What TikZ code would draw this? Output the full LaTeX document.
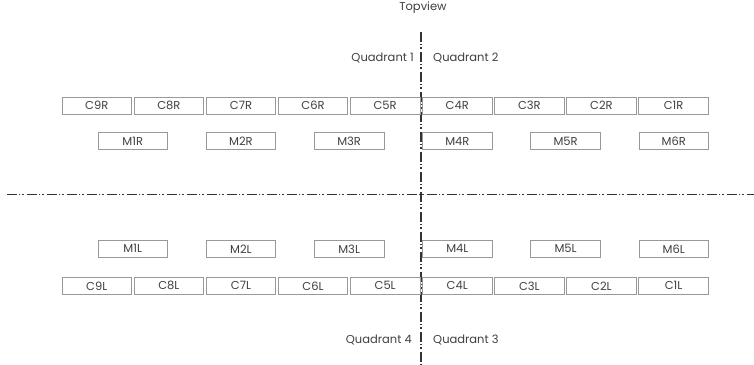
\documentclass[tikz,border=0pt]{standalone}
\usepackage{fontspec}
\setmainfont{Poppins}
\begin{document}
\begin{tikzpicture}[x=1pt,y=-1pt,
  cell/.style={draw=black!40,line width=0.7pt,minimum width=69.5pt,minimum height=17pt,inner sep=0pt,font=\fontsize{11.5}{13}\selectfont,text=black!75},
  lbl/.style={font=\fontsize{11.5}{13}\selectfont,text=black!75,inner sep=0pt},
  axis/.style={draw=black!80,line width=1.8pt,dash pattern=on 10pt off 1.8pt on 1.6pt off 1.8pt on 1.6pt off 3.2pt}]
\useasboundingbox (0,0) rectangle (754,364);
\fill[white] (0,0) rectangle (754,364);
% axes
\coordinate (hl) at (7,194.5);
\coordinate (hr) at (754,194.5);
\coordinate (vt) at (421,32);
\coordinate (vb) at (421,364);
\draw[axis] (hl) -- (hr);
\draw[axis] (vt) -- (vb);
% labels
\node[lbl] (top) at (423,8) {Topview};
\node[lbl,anchor=east] (q1) at (414,58) {Quadrant 1};
\node[lbl,anchor=west] (q2) at (433,58) {Quadrant 2};
\node[lbl,anchor=east] (q4) at (412,340) {Quadrant 4};
\node[lbl,anchor=west] (q3) at (433,340) {Quadrant 3};
% C rows
\foreach \n [count=\i from 0] in {9,8,7,6,5,4,3,2,1} {
  \node[cell] (C\n R) at ({96.75+72.1*\i},105.5) {C\n R};
  \node[cell] (C\n L) at ({96.75+72.1*\i},285.8) {C\n L};
}
% M rows
\foreach \n [count=\i from 0] in {1,...,6} {
  \node[cell] (M\n R) at ({132.75+108.2*\i},141) {M\n R};
  \node[cell] (M\n L) at ({132.75+108.2*\i},248.8) {M\n L};
}
\end{tikzpicture}
\end{document}
